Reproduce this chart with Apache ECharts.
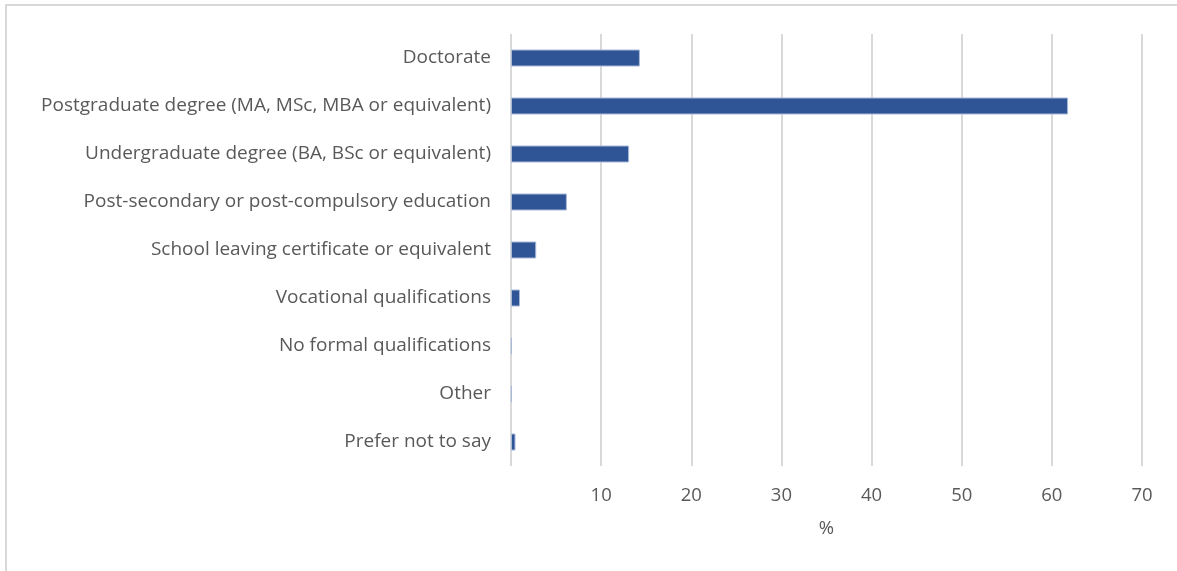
<!DOCTYPE html>
<html>
<head>
<meta charset="utf-8">
<script src="https://cdn.jsdelivr.net/npm/echarts@6/dist/echarts.min.js"></script>
<style>
  html, body { margin: 0; padding: 0; background: #fff; }
  #chart { width: 1177px; height: 571px; }
</style>
</head>
<body>
<div id="chart"></div>
<script>
// Highest level of education (percent of respondents)
const categories = [
  'Doctorate',
  'Postgraduate degree (MA, MSc, MBA or equivalent)',
  'Undergraduate degree (BA, BSc or equivalent)',
  'Post-secondary or post-compulsory education',
  'School leaving certificate or equivalent',
  'Vocational qualifications',
  'No formal qualifications',
  'Other',
  'Prefer not to say'
];
const percentages = [14.3, 61.8, 13.1, 6.2, 2.8, 1.0, 0.1, 0.1, 0.5];
const axisTicks = [0, 10, 20, 30, 40, 50, 60, 70];

const FONT = 'Open Sans';
const TEXT = '#595959';
const GRID = '#d9d9d9';

const chart = echarts.init(document.getElementById('chart'), null, { renderer: 'canvas' });

chart.setOption({
  animation: false,
  backgroundColor: '#ffffff',
  // outer chart-area frame (runs off the right and bottom edges)
  graphic: [{
    type: 'rect',
    position: [0, 0],
    shape: { x: 6, y: 5, width: 1400, height: 800 },
    style: { fill: 'none', stroke: GRID, lineWidth: 2 },
    silent: true
  }],
  grid: { left: 511, right: 35, top: 34, bottom: 105, containLabel: false },
  xAxis: {
    type: 'value',
    min: axisTicks[0],
    max: axisTicks[axisTicks.length - 1],
    interval: axisTicks[1] - axisTicks[0],
    name: '%',
    nameLocation: 'middle',
    nameGap: 53,
    nameTextStyle: { color: TEXT, fontFamily: FONT, fontSize: 18.5 },
    axisLine: { show: false },
    axisTick: { show: false },
    axisLabel: {
      color: TEXT, fontFamily: FONT, fontSize: 18.5, margin: 20,
      formatter: v => (v === 0 ? '' : String(v))
    },
    splitLine: { show: true, lineStyle: { color: GRID, width: 2 } }
  },
  yAxis: {
    type: 'category',
    data: categories,
    inverse: true,
    axisLine: { show: false },
    axisTick: { show: false },
    axisLabel: { color: TEXT, fontFamily: FONT, fontSize: 19, margin: 20 }
  },
  series: [{
    type: 'bar',
    data: percentages,
    barWidth: 17,
    itemStyle: { color: '#2f5597', borderColor: '#a8b9d8', borderWidth: 1 }
  }]
});
</script>
</body>
</html>
